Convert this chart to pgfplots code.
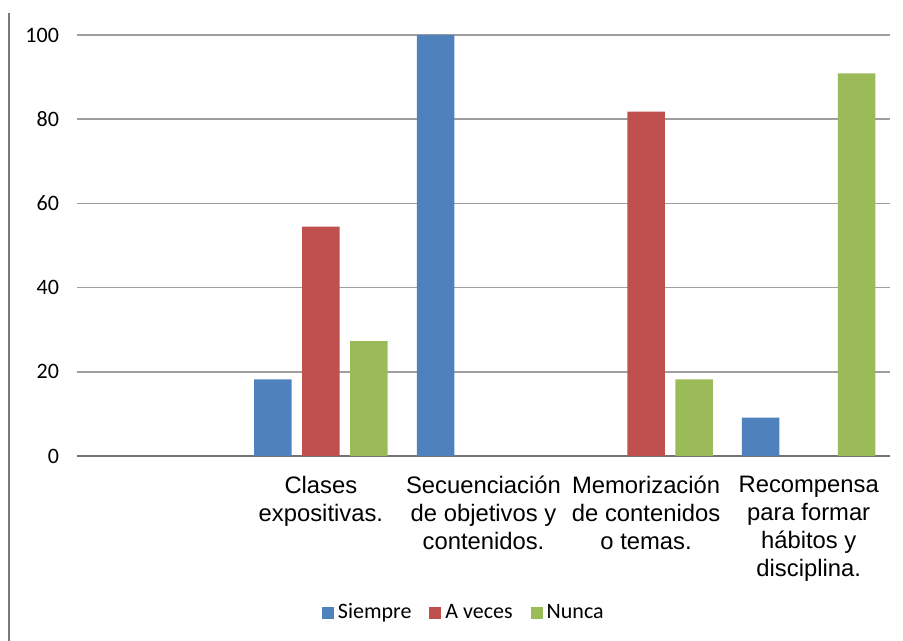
\documentclass[border=0pt]{standalone}
\usepackage{pgfplots}
\pgfplotsset{compat=1.18}
\usepackage{fontspec}
\setmainfont{Carlito}
\newfontfamily\arialf{Liberation Sans}
\definecolor{cblue}{RGB}{79,129,189}
\definecolor{cred}{RGB}{192,80,77}
\definecolor{cgreen}{RGB}{155,187,89}
\begin{document}
\begin{tikzpicture}
\useasboundingbox (-38.5pt,-92.5pt) rectangle (413pt,228pt);
\draw[gray!95!black, line width=0.9pt] (-34pt,221.5pt) -- (-34pt,-92.5pt);
\begin{axis}[
  at={(0pt,0pt)}, anchor=south west,
  scale only axis,
  width=406.5pt, height=210.5pt,
  ymin=0, ymax=100,
  xmin=-0.5, xmax=4.5,
  ytick={0,20,40,60,80,100},
  xtick={0,1,2,3,4},
  xticklabels={{},{Clases\\expositivas.},{Secuenciación\\de objetivos y\\contenidos.},{Memorización\\de contenidos\\o temas.},{Recompensa\\para formar\\hábitos y\\disciplina.}},
  major tick length=0pt,
  ymajorgrids,
  major grid style={draw=black!38, line width=0.75pt},
  axis x line*=bottom,
  axis y line*=left,
  y axis line style={draw=none},
  x axis line style={draw=black!55, line width=0.75pt, -},
  /pgf/number format/assume math mode=true,
  yticklabel style={font=\fontsize{11}{13}\selectfont, xshift=-5.5pt},
  xticklabel style={font=\arialf\fontsize{11.9}{14}\selectfont, align=center, yshift=-6.5pt},
  ybar=5.25pt, bar width=18.75pt,
  legend style={at={(0.477,-0.373)}, anchor=center, legend columns=3, draw=none,
     font=\fontsize{11}{13}\selectfont,
     nodes={text depth=0.2em, text height=0.75em, inner ysep=1pt, inner xsep=2pt},
     /tikz/every even column/.append style={column sep=7pt}},
  legend image code/.code={\fill[#1] (0pt,-3pt) rectangle (6pt,3pt);},
]
\addplot[fill=cblue, draw=none] coordinates {(1,18.2) (2,100) (4,9.1)};
\addplot[fill=cred, draw=none] coordinates {(1,54.5) (3,81.8)};
\addplot[fill=cgreen, draw=none] coordinates {(1,27.3) (3,18.2) (4,90.9)};
\legend{Siempre, A veces, Nunca}
\end{axis}
\end{tikzpicture}
\end{document}
